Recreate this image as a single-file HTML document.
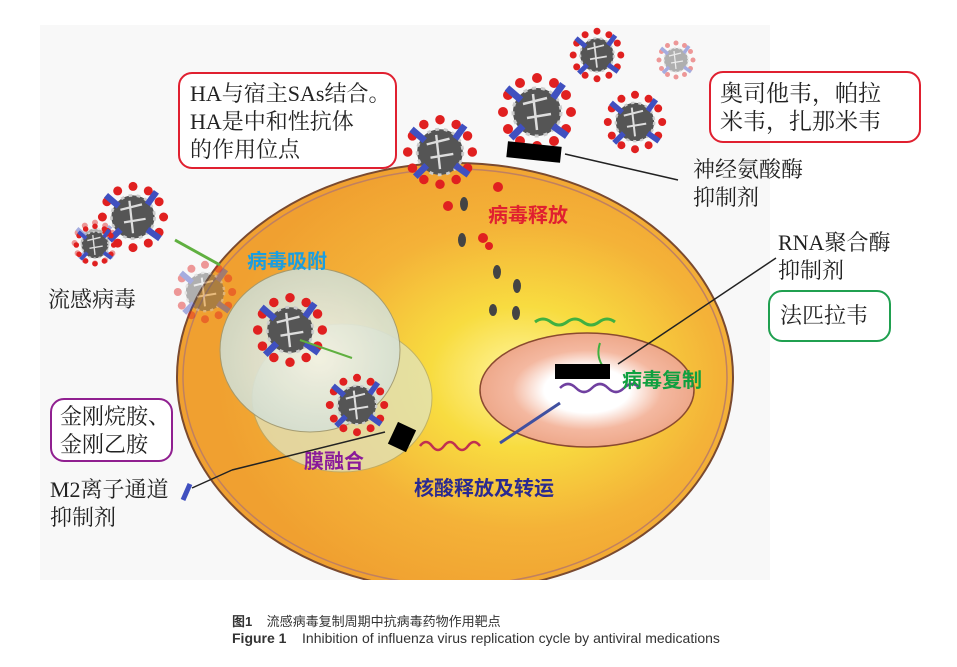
<!DOCTYPE html>
<html><head><meta charset="utf-8"><style>
html,body{margin:0;padding:0;background:#fff;}
body{width:957px;height:667px;position:relative;overflow:hidden;font-family:"Liberation Serif","Noto Serif CJK SC",serif;}
.t{position:absolute;white-space:nowrap;color:#222;}
.ser{font-family:"Liberation Serif","Noto Serif CJK SC",serif;font-size:22px;line-height:28px;color:#222;}
.bold{font-family:"Liberation Sans","Noto Sans CJK SC",sans-serif;font-weight:bold;font-size:20px;}
.box{position:absolute;border:2px solid;border-radius:14px;background:#fff;box-sizing:border-box;}
</style></head><body>
<svg width="957" height="667" style="position:absolute;left:0;top:0">
<defs>
<radialGradient id="cell" cx="0.62" cy="0.5" r="0.55">
<stop offset="0" stop-color="#fff6a0"/><stop offset="0.3" stop-color="#f8dc40"/><stop offset="0.65" stop-color="#f4b238"/><stop offset="1" stop-color="#f0a030"/></radialGradient>
<radialGradient id="nuc" cx="0.5" cy="0.5" r="0.5">
<stop offset="0" stop-color="#fff"/><stop offset="0.4" stop-color="#fff"/><stop offset="0.7" stop-color="#f4b8a0"/><stop offset="1" stop-color="#eea88a"/></radialGradient>
<radialGradient id="ves" cx="0.55" cy="0.55" r="0.55">
<stop offset="0" stop-color="#f4f4e8"/><stop offset="1" stop-color="#cfdcd0"/></radialGradient>
<g id="v">
<g fill="#e02020"><circle cx="0" cy="-34" r="5"/><circle cx="17" cy="-29" r="5"/><circle cx="29" cy="-17" r="5"/><circle cx="34" cy="0" r="5"/><circle cx="29" cy="17" r="5"/><circle cx="17" cy="29" r="5"/><circle cx="0" cy="34" r="5"/><circle cx="-17" cy="29" r="5"/><circle cx="-29" cy="17" r="5"/><circle cx="-34" cy="0" r="5"/><circle cx="-29" cy="-17" r="5"/><circle cx="-17" cy="-29" r="5"/></g>
<circle r="24" fill="#555"/><circle r="24" fill="none" stroke="#ccc" stroke-width="3" stroke-dasharray="4 5"/>
<path d="M-14,-8 L10,-14 M-10,6 L14,2 M-4,-18 L0,18" stroke="#ddd" stroke-width="2.5"/>
<g stroke="#4050c0" stroke-width="7"><line x1="-30" y1="-24" x2="-16" y2="-12"/><line x1="16" y1="-14" x2="26" y2="-28"/><line x1="-26" y1="26" x2="-14" y2="14"/><line x1="16" y1="14" x2="30" y2="24"/></g>
</g>
</defs>
<rect x="40" y="25" width="730" height="555" fill="#f8f8f8"/>
<ellipse cx="455" cy="377" rx="278" ry="214" fill="url(#cell)" stroke="#7a4a30" stroke-width="2"/>
<ellipse cx="455" cy="377" rx="272" ry="208" fill="none" stroke="#c08060" stroke-width="1.5"/>
<rect x="40" y="580" width="730" height="20" fill="#fff"/>
<ellipse cx="342" cy="398" rx="90" ry="74" fill="#e0e4c0" opacity="0.75" stroke="#b0a870"/>
<ellipse cx="310" cy="350" rx="90" ry="82" fill="url(#ves)" opacity="0.9" stroke="#a09870"/>
<ellipse cx="587" cy="390" rx="107" ry="57" fill="url(#nuc)" stroke="#8a4a30" stroke-width="1.5"/>
<path d="M535,322 q8,-6 16,0 t16,0 t16,0 t16,0 t16,0" stroke="#40b040" stroke-width="3" fill="none"/>
<path d="M600,343 q-4,12 2,22" stroke="#40b040" stroke-width="2" fill="none"/>
<path d="M560,388 q8,-8 16,0 t16,0 t16,0 t16,0 t16,0" stroke="#7040a0" stroke-width="2.5" fill="none"/>
<path d="M420,446 q6,-8 12,0 t12,0 t12,0 t12,0 t12,0" stroke="#c03050" stroke-width="2.5" fill="none"/>
<path d="M500,443 l12,-8 l12,-8 l12,-8 l12,-8 l12,-8" stroke="#4050a0" stroke-width="3" fill="none"/>
<g fill="#444"><ellipse cx="464" cy="204" rx="4" ry="7"/><ellipse cx="462" cy="240" rx="4" ry="7"/><ellipse cx="497" cy="272" rx="4" ry="7"/><ellipse cx="517" cy="286" rx="4" ry="7"/><ellipse cx="516" cy="313" rx="4" ry="7"/><ellipse cx="493" cy="310" rx="4" ry="6"/></g>
<g fill="#e02020"><circle cx="498" cy="187" r="5"/><circle cx="448" cy="206" r="5"/><circle cx="483" cy="238" r="5"/><circle cx="489" cy="246" r="4"/></g>
<g opacity="0.45"><use href="#v" transform="translate(95,243) scale(0.6)"/><use href="#v" transform="translate(205,292) scale(0.8)"/><use href="#v" transform="translate(676,60) scale(0.5)"/></g>
<use href="#v" transform="translate(133,217) scale(0.9)"/>
<use href="#v" transform="translate(95,245) scale(0.55)"/>
<use href="#v" transform="translate(440,152) scale(0.95)"/>
<use href="#v" transform="translate(537,112) scale(1)"/>
<use href="#v" transform="translate(635,122) scale(0.8)"/>
<use href="#v" transform="translate(597,55) scale(0.7)"/>
<use href="#v" transform="translate(290,330) scale(0.95)"/>
<use href="#v" transform="translate(357,405) scale(0.8)"/>
<line x1="220" y1="265" x2="175" y2="240" stroke="#60b040" stroke-width="3"/>
<line x1="300" y1="340" x2="352" y2="358" stroke="#60b040" stroke-width="2"/>
<line x1="678" y1="180" x2="565" y2="154" stroke="#222" stroke-width="1.5"/>
<rect x="507" y="144" width="54" height="16" fill="#000" transform="rotate(6 534 152)"/>
<line x1="776" y1="258" x2="618" y2="364" stroke="#222" stroke-width="1.5"/>
<rect x="555" y="364" width="55" height="15" fill="#000"/>
<line x1="192" y1="488" x2="232" y2="470" stroke="#222" stroke-width="1.5"/>
<line x1="232" y1="470" x2="385" y2="432" stroke="#222" stroke-width="1.5"/>
<rect x="392" y="425" width="20" height="24" fill="#000" transform="rotate(25 402 437)"/>
<line x1="183" y1="500" x2="190" y2="484" stroke="#4050c0" stroke-width="5"/>
</svg>
<div class="box" style="left:178px;top:72px;width:219px;height:97px;border-color:#e02030"></div>
<div class="t ser" style="left:190px;top:80px;">HA与宿主SAs结合。<br>HA是中和性抗体<br>的作用位点</div>
<div class="box" style="left:709px;top:71px;width:212px;height:72px;border-color:#e02030"></div>
<div class="t ser" style="left:720px;top:80px;font-size:23px;">奥司他韦，帕拉<br>米韦，扎那米韦</div>
<div class="t ser" style="left:693px;top:156px;">神经氨酸酶<br>抑制剂</div>
<div class="t ser" style="left:778px;top:229px;">RNA聚合酶<br>抑制剂</div>
<div class="box" style="left:768px;top:290px;width:123px;height:52px;border-color:#20a050"></div>
<div class="t ser" style="left:780px;top:302px;">法匹拉韦</div>
<div class="t ser" style="left:48px;top:286px;">流感病毒</div>
<div class="box" style="left:50px;top:398px;width:123px;height:64px;border-color:#902090"></div>
<div class="t ser" style="left:60px;top:403px;">金刚烷胺、<br>金刚乙胺</div>
<div class="t ser" style="left:50px;top:476px;">M2离子通道<br>抑制剂</div>
<div class="t bold" style="left:247px;top:245px;color:#1a9ee0">病毒吸附</div>
<div class="t bold" style="left:488px;top:199px;color:#e02030">病毒释放</div>
<div class="t bold" style="left:622px;top:364px;color:#10a040">病毒复制</div>
<div class="t bold" style="left:304px;top:445px;color:#8a1a9a">膜融合</div>
<div class="t bold" style="left:414px;top:472px;color:#2a2a90">核酸释放及转运</div>
<div class="t" style="left:232px;top:611px;font-family:'Liberation Sans','Noto Sans CJK SC',sans-serif;font-size:13px;color:#333"><b>图1</b>&nbsp;&nbsp;&nbsp; 流感病毒复制周期中抗病毒药物作用靶点</div>
<div class="t" style="left:232px;top:630px;font-family:'Liberation Sans','Noto Sans CJK SC',sans-serif;font-size:14px;color:#333"><b>Figure 1</b>&nbsp;&nbsp;&nbsp; Inhibition of influenza virus replication cycle by antiviral medications</div>
</body></html>
